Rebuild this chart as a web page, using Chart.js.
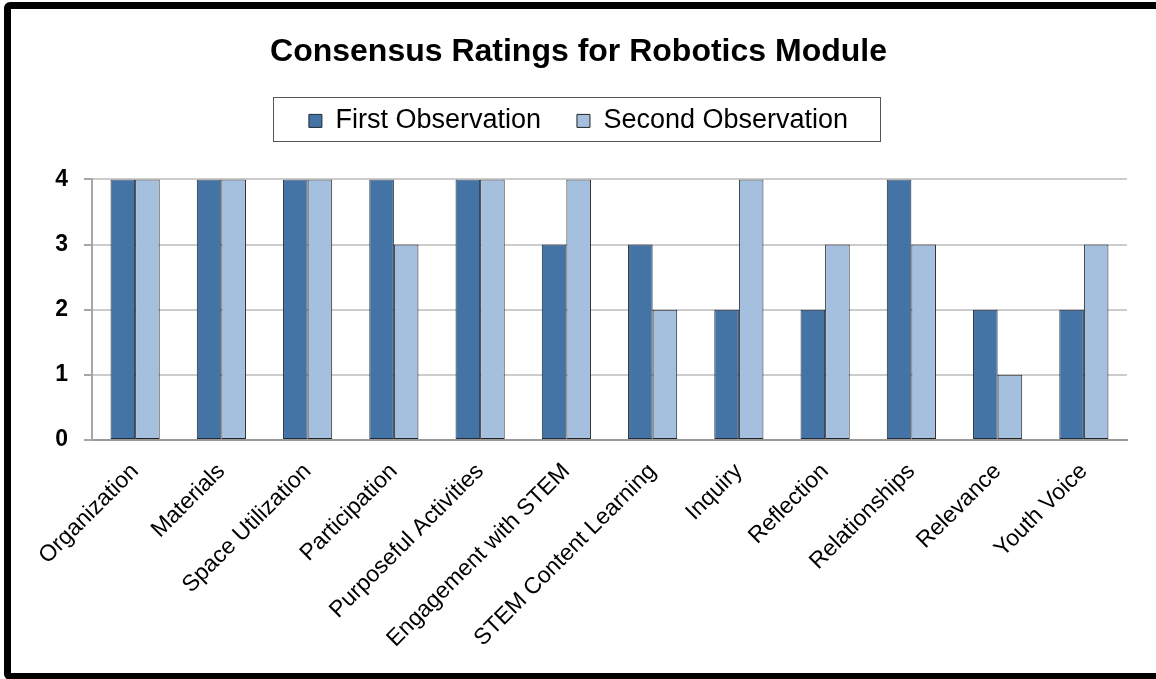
<!DOCTYPE html>
<html>
<head>
<meta charset="utf-8">
<script src="https://cdn.jsdelivr.net/npm/chart.js@4.4.0/dist/chart.umd.min.js"></script>
<style>
  html, body { margin: 0; padding: 0; background: #fff; }
  #frame {
    position: absolute; left: 4px; top: 2px;
    width: 1300px; height: 678px;
    box-sizing: border-box;
    border: 7px solid #000; border-radius: 6px;
  }
  #myChart { position: absolute; left: 0; top: 0; }
</style>
</head>
<body>
<div id="frame"></div>
<canvas id="myChart" width="1156" height="679"></canvas>
<script>
const categories = [
  'Organization', 'Materials', 'Space Utilization', 'Participation',
  'Purposeful Activities', 'Engagement with STEM', 'STEM Content Learning',
  'Inquiry', 'Reflection', 'Relationships', 'Relevance', 'Youth Voice'
];
const firstObservation = [4, 4, 4, 4, 4, 3, 3, 2, 2, 4, 2, 2];
const secondObservation = [4, 4, 4, 3, 4, 4, 2, 4, 3, 3, 1, 3];
const yTicks = [0, 1, 2, 3, 4];

Chart.defaults.font.family = '"Liberation Sans", Arial, sans-serif';
Chart.defaults.color = '#000';

// thin frame round the legend, like the spreadsheet original
const legendFrame = {
  id: 'legendFrame',
  afterDraw(chart) {
    const boxes = chart.legend && chart.legend.legendHitBoxes;
    if (!boxes || !boxes.length) return;
    const first = boxes[0];
    const last = boxes[boxes.length - 1];
    const ctx = chart.ctx;
    const x0 = Math.round(first.left - 36) + 0.5;
    const x1 = Math.round(last.left + last.width + 32) + 0.5;
    const y0 = Math.round(first.top - 10) + 0.5;
    const y1 = Math.round(first.top + first.height + 7) + 0.5;
    ctx.save();
    ctx.strokeStyle = '#555';
    ctx.lineWidth = 1;
    ctx.strokeRect(x0, y0, x1 - x0, y1 - y0);
    ctx.restore();
  }
};

const ctx = document.getElementById('myChart').getContext('2d');
const chart = new Chart(ctx, {
  type: 'bar',
  data: {
    labels: categories,
    datasets: [{
      label: 'First Observation',
      data: firstObservation,
      backgroundColor: '#4473A5',
      borderColor: '#1f2a36',
      borderWidth: 1,
      borderSkipped: false
    }, {
      label: 'Second Observation',
      data: secondObservation,
      backgroundColor: '#A5C0DF',
      borderColor: '#222',
      borderWidth: 1,
      borderSkipped: false
    }]
  },
  options: {
    responsive: false,
    animation: false,
    categoryPercentage: 0.57,
    barPercentage: 1,
    layout: {
      padding: { top: 10, left: 30, right: 29, bottom: 10 }
    },
    plugins: {
      title: {
        display: true,
        text: 'Consensus Ratings for Robotics Module',
        color: '#000',
        font: { size: 32, weight: 'bold' },
        padding: { top: 23, bottom: 0 }
      },
      legend: {
        display: true,
        position: 'top',
        labels: {
          boxWidth: 13,
          boxHeight: 13,
          padding: 36,
          color: '#000',
          font: { size: 27 }
        }
      },
      // empty block that keeps the gap between legend and plot
      subtitle: {
        display: true,
        text: '',
        weight: 500,
        font: { size: 10, lineHeight: 1 },
        padding: { top: 25, bottom: 0 }
      },
      tooltip: { enabled: false }
    },
    scales: {
      x: {
        grid: { display: false, drawTicks: false },
        border: { display: true, color: '#999', width: 2 },
        ticks: {
          autoSkip: false,
          maxRotation: 45,
          minRotation: 45,
          padding: 18,
          color: '#000',
          font: { size: 23 }
        },
        afterFit: scale => { scale.height = 229; }
      },
      y: {
        min: yTicks[0],
        max: yTicks[yTicks.length - 1],
        ticks: {
          stepSize: 1,
          padding: 16,
          color: '#000',
          font: { size: 23, weight: 'bold' }
        },
        grid: {
          color: '#cccccc',
          lineWidth: 2,
          tickLength: 8,
          tickColor: '#a6a6a6'
        },
        border: { display: true, color: '#a6a6a6', width: 2 },
        afterFit: scale => { scale.width = 62; }
      }
    }
  },
  plugins: [legendFrame]
});
</script>
</body>
</html>
